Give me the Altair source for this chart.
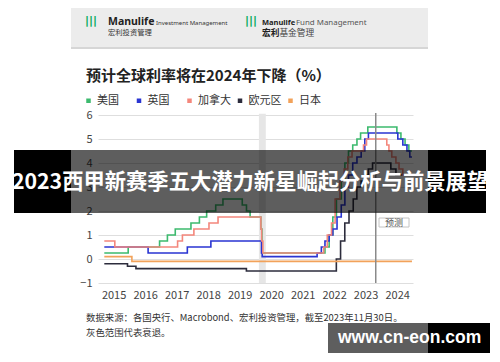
import altair as alt
import pandas as pd

# ---------------- data ----------------
series_names = ["美国", "英国", "加拿大", "欧元区", "日本"]
series_colors = ["#3cba6e", "#2a35d2", "#f4877c", "#2c2c3c", "#f2a25a"]

us_dates = ["2015-03-15", "2015-12-17", "2016-12-15", "2017-03-16", "2017-06-15", "2017-12-14",
            "2018-03-22", "2018-06-14", "2018-09-27", "2018-12-20", "2019-08-01", "2019-09-19",
            "2019-10-31", "2020-03-04", "2020-03-16", "2022-03-17", "2022-05-05", "2022-06-16",
            "2022-07-28", "2022-09-22", "2022-11-03", "2022-12-15", "2023-02-02", "2023-03-23",
            "2023-05-04", "2023-07-27", "2024-06-28", "2024-08-14", "2024-10-01", "2024-11-14",
            "2024-12-20"]
us_rates = [0.25, 0.5, 0.75, 1.0, 1.25, 1.5, 1.75, 2.0, 2.25, 2.5, 2.25, 2.0, 1.75, 1.25, 0.25,
            0.5, 1.0, 1.75, 2.5, 3.25, 4.0, 4.5, 4.75, 5.0, 5.25, 5.5, 5.25, 5.0, 4.75, 4.5, 4.5]

uk_dates = ["2015-03-15", "2016-08-04", "2017-11-02", "2018-08-02", "2020-03-11", "2020-03-19",
            "2021-12-16", "2022-02-03", "2022-03-17", "2022-05-05", "2022-06-16", "2022-08-04",
            "2022-09-22", "2022-11-03", "2022-12-15", "2023-02-02", "2023-03-23", "2023-05-11",
            "2023-06-22", "2023-08-03", "2024-07-09", "2024-09-05", "2024-10-23", "2024-11-25",
            "2024-12-20"]
uk_rates = [0.5, 0.25, 0.5, 0.75, 0.25, 0.1, 0.25, 0.5, 0.75, 1.0, 1.25, 1.75, 2.25, 3.0, 3.5,
            4.0, 4.25, 4.5, 5.0, 5.25, 5.0, 4.75, 4.5, 4.25, 4.25]

ca_dates = ["2015-03-15", "2015-07-15", "2017-07-12", "2017-09-06", "2018-01-17", "2018-07-11",
            "2018-10-24", "2020-03-04", "2020-03-13", "2020-03-27", "2022-03-02", "2022-04-13",
            "2022-06-01", "2022-07-13", "2022-09-07", "2022-10-26", "2022-12-07", "2023-01-25",
            "2023-06-07", "2023-07-12", "2024-03-03", "2024-03-28", "2024-04-30", "2024-06-17",
            "2024-07-23", "2024-09-05", "2024-11-25"]
ca_rates = [0.75, 0.5, 0.75, 1.0, 1.25, 1.5, 1.75, 1.25, 0.75, 0.25, 0.5, 1.0, 1.5, 2.5, 3.25,
            3.75, 4.25, 4.5, 4.75, 5.0, 4.75, 4.5, 4.25, 4.0, 3.75, 3.5, 3.5]

ez_dates = ["2015-03-15", "2015-12-09", "2016-03-16", "2019-09-18", "2022-07-27", "2022-09-14",
            "2022-11-02", "2022-12-21", "2023-02-08", "2023-03-22", "2023-05-10", "2023-06-21",
            "2023-08-02", "2023-09-20", "2024-04-19", "2024-06-17", "2024-08-25"]
ez_rates = [-0.2, -0.3, -0.4, -0.5, 0.0, 0.75, 1.5, 2.0, 2.5, 3.0, 3.25, 3.5, 3.75, 4.0, 3.75,
            3.5, 3.5]

jp_dates = ["2015-03-15", "2016-01-29", "2024-12-20"]
jp_rates = [0.1, -0.1, -0.1]

recession_start = ["2020-02-10"]
recession_end = ["2020-04-30"]
forecast_date = ["2023-10-27"]

x_tick_years = list(range(2015, 2025))
y_ticks = [-1, 0, 1, 2, 3, 4, 5, 6]

rows = []
for name, ds, vs in [("美国", us_dates, us_rates), ("英国", uk_dates, uk_rates),
                     ("加拿大", ca_dates, ca_rates), ("欧元区", ez_dates, ez_rates),
                     ("日本", jp_dates, jp_rates)]:
    for d, v in zip(ds, vs):
        rows.append({"date": d, "rate": v, "bank": name})
df = pd.DataFrame(rows)

W, H = 315, 168
CJK = "Noto Sans CJK SC"

x_scale = alt.Scale(domain=[alt.DateTime(year=2015, month=1, date=1),
                            alt.DateTime(year=2025, month=1, date=1)])
y_scale = alt.Scale(domain=[-1, 6], nice=False)

x_axis = alt.Axis(values=[alt.DateTime(year=y, month=7, date=1) for y in x_tick_years],
                  format="%Y", title=None, domain=False, ticks=False, grid=False,
                  labelOverlap=False, labelFlush=False,
                  labelFont=CJK, labelFontSize=11, labelColor="#444", labelPadding=6)
y_axis = alt.Axis(values=y_ticks, title=None, domain=False, ticks=False, grid=True,
                  labelOverlap=False, labelFlush=False,
                  gridColor="#dedede", gridWidth=1, labelFont=CJK, labelFontSize=11,
                  labelColor="#444", labelPadding=6)

one = alt.Data(values=[{"k": 0}])


def box(x, x2, y, y2, **kw):
    return alt.Chart(one).mark_rect(**kw).encode(
        x=alt.value(x), x2=alt.value(x2), y=alt.value(y), y2=alt.value(y2))


def label(txt, x, y, **kw):
    return alt.Chart(one).mark_text(text=txt, **kw).encode(x=alt.value(x), y=alt.value(y))


# ---------------- header (image frame) ----------------
header = [
    box(-27, 330, -107, -67, color="#ececec"),
    box(-27, 330, -68, -66, color="#d6d6d6"),
    label("|||", -13, -94, align="left", baseline="middle", font="DejaVu Sans",
          fontWeight="bold", fontSize=11, color="#00a758"),
    label("Manulife", 10, -90, align="left", baseline="alphabetic", font="Noto Sans",
          fontWeight="bold", fontSize=10.5, color="#222"),
    label("Investment Management", 58, -90, align="left", baseline="alphabetic",
          font="Noto Sans", fontSize=6, color="#333"),
    label("宏利投资管理", 10, -82, align="left", baseline="middle", font=CJK,
          fontSize=7.3, color="#333"),
    label("|||", 147, -94, align="left", baseline="middle", font="DejaVu Sans",
          fontWeight="bold", fontSize=11, color="#00a758"),
    label("Manulife", 164, -90, align="left", baseline="alphabetic", font="Noto Sans",
          fontWeight="bold", fontSize=7.5, color="#222"),
    label("Fund Management", 198, -90, align="left", baseline="alphabetic",
          font="Noto Sans", fontSize=7.9, color="#555"),
    label("宏利", 164, -82, align="left", baseline="middle", font=CJK, fontWeight="bold",
          fontSize=8.7, color="#222"),
    label("基金管理", 181.4, -82, align="left", baseline="middle", font=CJK,
          fontSize=8.7, color="#444"),
    label("预计全球利率将在2024年下降（%）", -12, -39, align="left", baseline="middle",
          font=CJK, fontWeight="bold", fontSize=15, color="#222"),
    label("数据来源：各国央行、Macrobond、宏利投资管理，截至2023年11月30日。", -12, 203,
          align="left", baseline="middle", font=CJK, fontSize=9.4, color="#333"),
    label("灰色范围代表衰退。", -12, 218, align="left", baseline="middle", font=CJK,
          fontSize=9.4, color="#333"),
]

# ---------------- plot ----------------
rec_df = pd.DataFrame({"start": recession_start, "end": recession_end})
recession = alt.Chart(rec_df).mark_rect(color="#e6e6e6").encode(
    x=alt.X("start:T", scale=x_scale, axis=x_axis),
    x2="end:T",
    y=alt.Y("lo:Q", scale=y_scale, axis=y_axis), y2="hi:Q",
).transform_calculate(lo="-1", hi="6.05")

lines = alt.Chart(df).mark_line(interpolate="step-after", strokeWidth=1.6).encode(
    x=alt.X("date:T", scale=x_scale, axis=x_axis),
    y=alt.Y("rate:Q", scale=y_scale, axis=y_axis),
    color=alt.Color("bank:N", scale=alt.Scale(domain=series_names, range=series_colors),
                    sort=series_names,
                    legend=alt.Legend(orient="none", legendX=-15, legendY=-20,
                                      direction="horizontal", columns=5, title=None,
                                      symbolType="square", symbolSize=4,
                                      symbolStrokeWidth=2.5, labelFont=CJK,
                                      labelFontSize=11, labelColor="#333",
                                      columnPadding=2.5, gridAlign="all", labelOffset=3)),
)

fc_df = pd.DataFrame({"date": forecast_date})
forecast = alt.Chart(fc_df).mark_rule(color="#8a8a8a", strokeWidth=1.5).encode(
    x=alt.X("date:T", scale=x_scale, axis=x_axis), y=alt.value(-2), y2=alt.value(H))

fc_label = [
    box(281, 311, 103, 112, fill="white", stroke="#c4c4c4", strokeWidth=1),
    label("预测", 296, 107.5, align="center", baseline="middle", font=CJK, fontSize=9,
          color="#555"),
]

# ---------------- overlays (banner + watermark) ----------------
overlay = [
    box(-84, -27, 35, 98, color="#000000"),
    box(-27, 330, 35, 98, color="#000000", opacity=0.63),
    box(330, 388, 35, 98, color="#000000"),
    label("2023西甲新赛季五大潜力新星崛起分析与前景展望", 152, 68, align="center",
          baseline="middle", font=CJK, fontWeight="bold", fontSize=21.3, color="white"),
    box(230, 330, 208, 238, color="#000000", opacity=0.63),
    box(330, 392, 208, 238, color="#000000"),
    label("www.cn-eon.com", 240, 223, align="left", baseline="middle",
          font="Liberation Sans", fontWeight="bold", fontSize=17.5, color="white"),
]

chart = alt.layer(
    *header, recession, lines, forecast, *fc_label, *overlay
).properties(
    width=W, height=H,
    autosize=alt.AutoSizeParams(type="none"),
    padding={"left": 90, "top": 107, "right": 79, "bottom": 71},
    background="white",
).configure_view(stroke=None).configure_axis(labelOverlap=False)

chart.save("out.html", embed_options={"renderer": "svg", "actions": False})
